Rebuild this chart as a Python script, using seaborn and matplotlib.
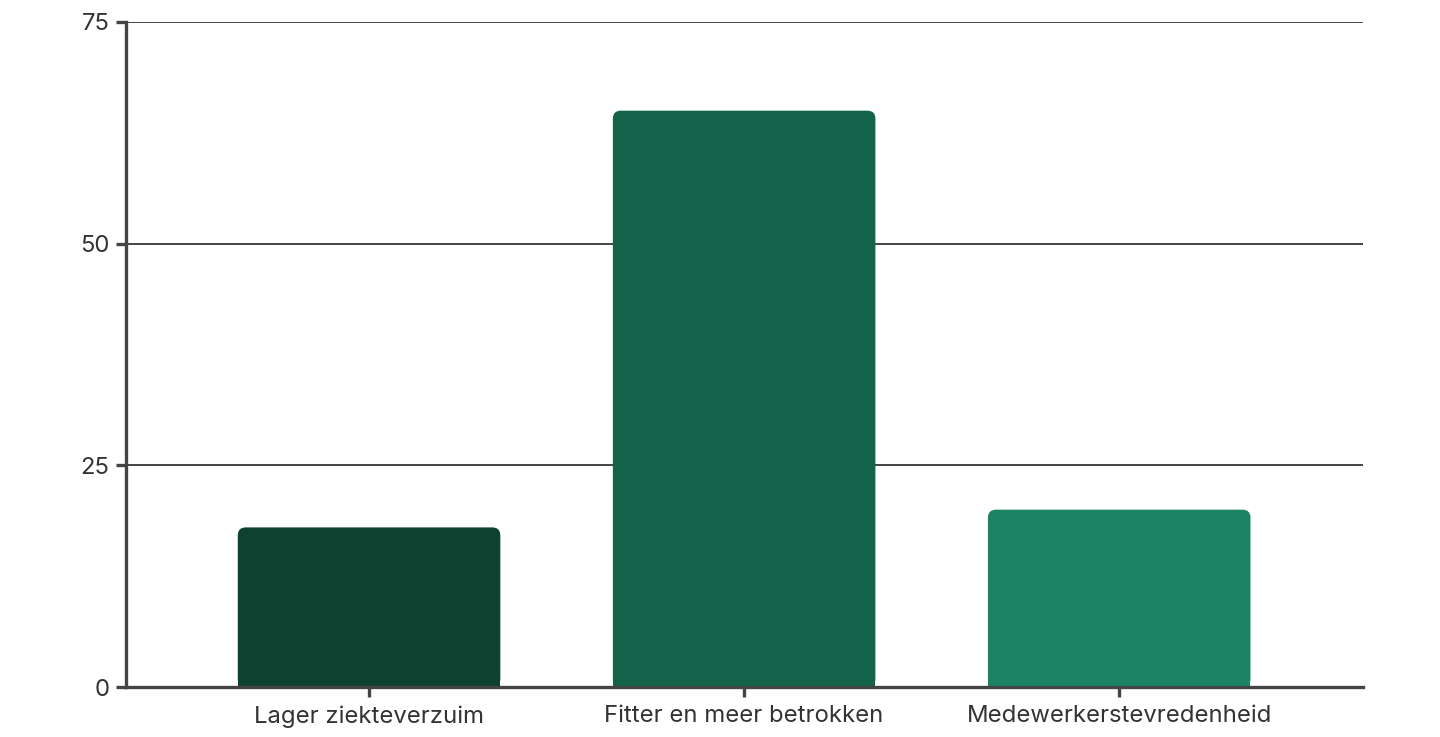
import matplotlib
matplotlib.use('Agg')
import matplotlib.pyplot as plt
import seaborn as sns
import pandas as pd
from matplotlib.patches import FancyBboxPatch, Rectangle

# data
categories = ['Lager ziekteverzuim', 'Fitter en meer betrokken', 'Medewerkerstevredenheid']
values = [18, 65, 20]
colors = ['#0E4230', '#13634A', '#1B8364']
yticks = [0, 25, 50, 75]

df = pd.DataFrame({'categorie': categories, 'waarde': values})

sns.set_theme(style='white')
plt.rcParams['font.family'] = ['Inter', 'DejaVu Sans']

fig = plt.figure(figsize=(14.4, 7.37), dpi=100)
ax = fig.add_axes([126 / 1440, 1 - 687 / 737, (1363 - 126) / 1440, (687 - 22) / 737])

sns.barplot(data=df, x='categorie', y='waarde', hue='categorie', palette=colors,
            saturation=1, width=0.7, legend=False, ax=ax, zorder=3)

ax.set_xlim(-0.648, 2.65)
ax.set_ylim(0, 75)

# afgeronde bovenhoeken
r_px = 8
sx = 375.0
sy = 665 / 75
for bar in list(ax.patches):
    x, y = bar.get_x(), bar.get_y()
    w, h = bar.get_width(), bar.get_height()
    c = bar.get_facecolor()
    bar.remove()
    rx = r_px / sx
    ry = r_px / sy
    ax.add_patch(FancyBboxPatch((x + rx, y + ry), w - 2 * rx, h - 2 * ry,
                                boxstyle=f'round,pad={rx},rounding_size={rx}',
                                mutation_aspect=ry / rx,
                                fc=c, ec='none', zorder=3))
    ax.add_patch(Rectangle((x, y), w, h / 2, fc=c, ec='none', zorder=3))

ax.set_yticks(yticks)
ax.set_yticklabels([str(t) for t in yticks])
for t in yticks[1:]:
    ax.axhline(t, color='#444444', lw=1.4, zorder=1)

for s in ['top', 'right']:
    ax.spines[s].set_visible(False)
for s in ['left', 'bottom']:
    ax.spines[s].set_color('#444444')
    ax.spines[s].set_linewidth(2.4)
    ax.spines[s].set_zorder(4)

ax.tick_params(axis='both', direction='out', length=7, width=2.4, color='#444444',
               labelsize=17.2, labelcolor='#333333', pad=5)
ax.tick_params(axis='y', left=True)
ax.tick_params(axis='x', bottom=True, pad=6)
ax.set_xlabel('')
ax.set_ylabel('')

fig.savefig('out.png', dpi=100, facecolor='white')
